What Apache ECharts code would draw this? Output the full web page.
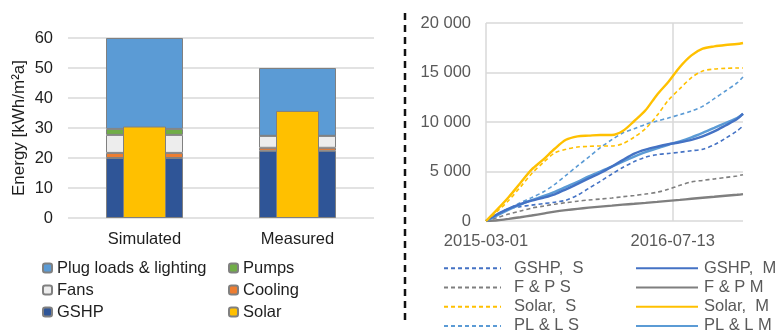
<!DOCTYPE html>
<html>
<head>
<meta charset="utf-8">
<script src="https://cdn.jsdelivr.net/npm/echarts@6/dist/echarts.min.js"></script>
<style>
  html, body { margin: 0; padding: 0; background: #fff; }
  #chart { width: 780px; height: 334px; }
</style>
</head>
<body>
<div id="chart"></div>
<script>
// ---- Annual energy balance (kWh/m²a) ----
var categories = ['Simulated', 'Measured'];
var gshp      = [20.0, 22.4];
var cooling   = [1.7, 1.0];
var fans      = [6.0, 4.0];
var pumps     = [2.0, 0.0];
var plugLoads = [30.3, 22.6];
var solar     = [30.5, 35.7];

// ---- Cumulative energy, simulated (S) vs measured (M) ----
var dates = [
  '2015-03-01','2015-04-01','2015-05-01','2015-06-01','2015-07-01','2015-08-01',
  '2015-09-01','2015-10-01','2015-11-01','2015-12-01','2016-01-01','2016-02-01',
  '2016-03-01','2016-04-01','2016-05-01','2016-06-01','2016-07-01','2016-08-01',
  '2016-09-01','2016-10-01','2016-11-01','2016-12-01','2017-01-01','2017-01-17'
];
var gshpS  = [0, 700, 1250, 1450, 1600, 1750, 1900, 2100, 2600, 3300, 4000, 4750, 5400, 6000, 6450, 6700, 6820, 6950, 7100, 7250, 7700, 8350, 9100, 9600];
var gshpM  = [0, 700, 1250, 1700, 2050, 2350, 2700, 3200, 3750, 4300, 4850, 5500, 6150, 6800, 7200, 7500, 7750, 7950, 8200, 8550, 9050, 9650, 10300, 10850];
var fpS    = [0, 350, 700, 1000, 1300, 1500, 1700, 1850, 2000, 2120, 2220, 2320, 2450, 2580, 2720, 2900, 3200, 3600, 3950, 4100, 4250, 4400, 4550, 4680];
var fpM    = [0, 80, 220, 380, 550, 750, 950, 1100, 1230, 1350, 1450, 1550, 1650, 1740, 1830, 1930, 2030, 2130, 2250, 2350, 2450, 2550, 2650, 2720];
var solarS = [0, 1010, 2090, 3430, 4780, 5890, 6870, 7240, 7470, 7540, 7580, 7580, 7810, 8480, 9330, 10670, 12190, 13370, 14480, 15150, 15350, 15420, 15450, 15450];
var solarM = [0, 1200, 2420, 3840, 5190, 6200, 7300, 8200, 8550, 8620, 8690, 8690, 9090, 10100, 11180, 12760, 14040, 15560, 16730, 17400, 17640, 17780, 17880, 17980];
var plS    = [0, 640, 1250, 1850, 2360, 2930, 3700, 4610, 5560, 6460, 7410, 8220, 8890, 9330, 9760, 10100, 10400, 10740, 11110, 11580, 12360, 13130, 13940, 14550];
var plM    = [0, 600, 1150, 1650, 2100, 2500, 2950, 3450, 3950, 4500, 5000, 5500, 6000, 6500, 6950, 7350, 7700, 8050, 8450, 8900, 9400, 9900, 10400, 10800];
var dateTicks = ['2015-03-01', '2016-07-13'];

var DAY = 86400000;
function toUTC(s) { var p = s.split('-'); return Date.UTC(+p[0], +p[1] - 1, +p[2]); }
var t0 = toUTC(dates[0]);
function dayOf(s) { return Math.round((toUTC(s) - t0) / DAY); }
function dateOf(d) { return new Date(t0 + d * DAY).toISOString().slice(0, 10); }
var dayX = dates.map(dayOf);
var tickStep = dayOf(dateTicks[1]) - dayOf(dateTicks[0]);
var lastDay = dayX[dayX.length - 1];
function pairs(vals) { return vals.map(function (v, i) { return [dayX[i], v]; }); }

var FONT = 'Liberation Sans, Arial, sans-serif';
var FS = 16.5;
var DARK = '#1e1e1e';
var GREY = '#595959';
var GRID = '#d9d9d9';
var EDGE = '#808080';

function barSeries(name, data, color) {
  return {
    name: name, type: 'bar', stack: 'use', xAxisIndex: 0, yAxisIndex: 0,
    barWidth: 77, data: data,
    itemStyle: { color: color, borderColor: EDGE, borderWidth: 1 }
  };
}
function lineSeries(name, data, color, dashed) {
  return {
    name: name, type: 'line', xAxisIndex: 2, yAxisIndex: 1,
    data: pairs(data), symbol: 'none', smooth: 0.3,
    lineStyle: dashed
      ? { color: color, width: 1.6, type: [4, 3] }
      : { color: color, width: 2.4 },
    itemStyle: { color: color }
  };
}
function lineLegend(left, iconW, textPad, names) {
  return {
    orient: 'vertical', left: left, top: 258.7, height: 100, padding: 0, itemGap: 0,
    itemWidth: iconW, itemHeight: 12,
    itemStyle: { opacity: 0 },
    textStyle: { color: GREY, fontSize: FS, fontFamily: FONT, lineHeight: 19.2, padding: [0, 0, 0, textPad] },
    data: names
  };
}
function barLegend(left, names) {
  return {
    orient: 'vertical', left: left, top: 257, height: 100, padding: 0, itemGap: 0,
    itemWidth: 9, itemHeight: 9,
    textStyle: { color: DARK, fontSize: FS, fontFamily: FONT, lineHeight: 22 },
    data: names
  };
}

var option = {
  animation: false,
  backgroundColor: '#fff',
  textStyle: { fontFamily: FONT },
  grid: [
    { left: 68, top: 38, width: 306, height: 180 },
    { left: 486, top: 23, width: 257, height: 198 }
  ],
  xAxis: [
    {
      type: 'category', gridIndex: 0, data: categories,
      axisLine: { show: false }, axisTick: { show: false },
      axisLabel: { color: DARK, fontSize: FS, fontFamily: FONT, margin: 13 }
    },
    { type: 'category', gridIndex: 0, data: categories, show: false },
    {
      type: 'value', gridIndex: 1, min: 0, max: lastDay, interval: tickStep,
      axisLine: { show: false }, axisTick: { show: false },
      axisLabel: {
        color: GREY, fontSize: FS, fontFamily: FONT, margin: 12,
        showMaxLabel: false,
        formatter: function (v) { return dateOf(v); }
      },
      splitLine: { show: true, lineStyle: { color: [GRID, GRID, 'rgba(0,0,0,0)'], width: 1.5 } }
    }
  ],
  yAxis: [
    {
      type: 'value', gridIndex: 0, min: 0, max: 60, interval: 10,
      name: 'Energy [kWh/m²a]', nameLocation: 'middle', nameGap: 40,
      nameTextStyle: { color: DARK, fontSize: 17, fontFamily: FONT },
      axisLine: { show: false }, axisTick: { show: false },
      axisLabel: { color: DARK, fontSize: FS, fontFamily: FONT, margin: 15 },
      splitLine: { lineStyle: { color: GRID, width: 1.5 } }
    },
    {
      type: 'value', gridIndex: 1, min: 0, max: 20000, interval: 5000,
      axisLine: { show: false }, axisTick: { show: false },
      axisLabel: {
        color: GREY, fontSize: FS, fontFamily: FONT, margin: 15,
        formatter: function (v) { return String(v).replace(/\B(?=(\d{3})+(?!\d))/g, ' '); }
      },
      splitLine: { lineStyle: { color: GRID, width: 1.5 } }
    }
  ],
  legend: [
    barLegend(42, ['Plug loads & lighting', 'Fans', 'GSHP']),
    barLegend(228, ['Pumps', 'Cooling', 'Solar']),
    lineLegend(443, 57, 8, ['GSHP,  S', 'F & P S', 'Solar,  S', 'PL & L S']),
    lineLegend(635, 62, 1, ['GSHP,  M', 'F & P M', 'Solar,  M', 'PL & L M'])
  ],
  graphic: [
    {
      type: 'line', silent: true,
      shape: { x1: 405, y1: 13, x2: 405, y2: 324 },
      style: { stroke: '#111', lineWidth: 2.5, lineDash: [7, 5] }
    }
  ],
  series: [
    barSeries('GSHP', gshp, '#2F5597'),
    barSeries('Cooling', cooling, '#ED7D31'),
    barSeries('Fans', fans, '#EDEDED'),
    barSeries('Pumps', pumps, '#70AD47'),
    barSeries('Plug loads & lighting', plugLoads, '#5B9BD5'),
    {
      name: 'Solar', type: 'bar', xAxisIndex: 1, yAxisIndex: 0,
      barWidth: 43, data: solar, z: 3,
      itemStyle: { color: '#FFC000', borderColor: EDGE, borderWidth: 1 }
    },
    lineSeries('F & P S', fpS, '#7F7F7F', true),
    lineSeries('F & P M', fpM, '#7F7F7F', false),
    lineSeries('GSHP,  S', gshpS, '#4472C4', true),
    lineSeries('PL & L S', plS, '#5B9BD5', true),
    lineSeries('PL & L M', plM, '#5B9BD5', false),
    lineSeries('GSHP,  M', gshpM, '#4472C4', false),
    lineSeries('Solar,  S', solarS, '#FFC000', true),
    lineSeries('Solar,  M', solarM, '#FFC000', false)
  ]
};

var chart = echarts.init(document.getElementById('chart'), null, { renderer: 'canvas' });
chart.setOption(option);
</script>
</body>
</html>
